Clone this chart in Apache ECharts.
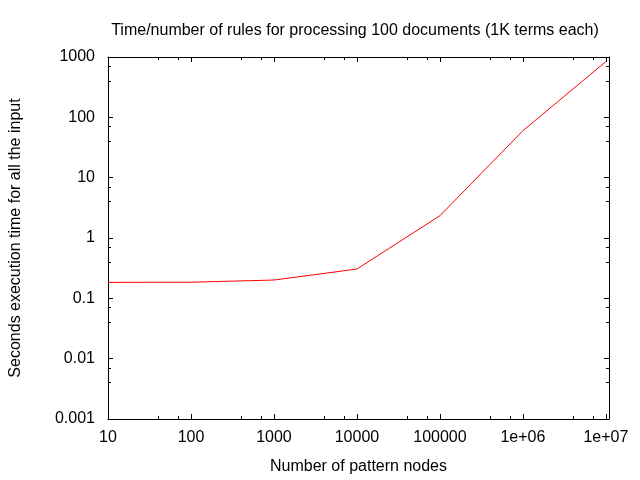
<!DOCTYPE html>
<html>
<head>
<meta charset="utf-8">
<script src="https://cdn.jsdelivr.net/npm/echarts@6/dist/echarts.min.js"></script>
<style>html,body{margin:0;padding:0;background:#fff}#c{width:640px;height:480px}</style>
</head>
<body>
<div id="c"></div>
<script>
const titleText = 'Time/number of rules for processing 100 documents (1K terms each)';
const xName = 'Number of pattern nodes';
const yName = 'Seconds execution time for all the input';
const patternNodes = [10, 100, 1000, 10000, 100000, 1000000, 10000000];
const seconds = [0.184, 0.185, 0.201, 0.306, 2.34, 60, 840];
const xTickLabels = {10:'10',100:'100',1000:'1000',10000:'10000',100000:'100000',1000000:'1e+06',10000000:'1e+07'};
const yTickLabels = {0.001:'0.001',0.01:'0.01',0.1:'0.1',1:'1',10:'10',100:'100',1000:'1000'};

const FONT = 'Liberation Sans';
const FS = 16;
const chart = echarts.init(document.getElementById('c'), null, {renderer:'canvas'});
function lab(map, v){
  for (const k in map){ if (Math.abs(Math.log10(+k) - Math.log10(v)) < 1e-6) return map[k]; }
  return '';
}
const axLine = {show:true, lineStyle:{color:'#000', width:1}};
const tick = {show:true, inside:true, length:5, lineStyle:{color:'#000', width:1}};
const minor = {show:true, splitNumber:3, length:3, lineStyle:{color:'#000', width:1}};
chart.setOption({
  animation:false,
  backgroundColor:'#fff',
  title:{text:titleText, left:350, top:18, textAlign:'center',
    textStyle:{fontFamily:FONT, fontSize:FS, fontWeight:'normal', color:'#000'}},
  grid:{left:104, right:31, top:57, bottom:61, containLabel:false},
  xAxis:[{
    type:'log', logBase:10, min:10, max:1.09e7, position:'bottom',
    name:xName, nameLocation:'middle', nameGap:40,
    nameTextStyle:{fontFamily:FONT, fontSize:FS, color:'#000'},
    axisLine:axLine, axisTick:tick, minorTick:minor, splitLine:{show:false},
    axisLabel:{fontFamily:FONT, fontSize:FS, color:'#000', margin:11, formatter:v=>lab(xTickLabels, v)}
  },{
    type:'log', logBase:10, min:10, max:1.09e7, position:'top',
    axisLine:axLine, axisTick:tick, minorTick:minor, splitLine:{show:false}, axisLabel:{show:false}
  }],
  yAxis:[{
    type:'log', logBase:10, min:0.001, max:1000, position:'left',
    name:yName, nameLocation:'middle', nameGap:84, nameRotate:90,
    nameTextStyle:{fontFamily:FONT, fontSize:FS, color:'#000'},
    axisLine:axLine, axisTick:tick, minorTick:minor, splitLine:{show:false},
    axisLabel:{fontFamily:FONT, fontSize:FS, color:'#000', margin:13, formatter:v=>lab(yTickLabels, v)}
  },{
    type:'log', logBase:10, min:0.001, max:1000, position:'right',
    axisLine:axLine, axisTick:tick, minorTick:minor, splitLine:{show:false}, axisLabel:{show:false}
  }],
  series:[{
    type:'line', xAxisIndex:0, yAxisIndex:0,
    data:patternNodes.map((x,i)=>[x, seconds[i]]),
    showSymbol:false, symbol:'none',
    lineStyle:{color:'#ff0000', width:1}
  }]
});
</script>
</body>
</html>
